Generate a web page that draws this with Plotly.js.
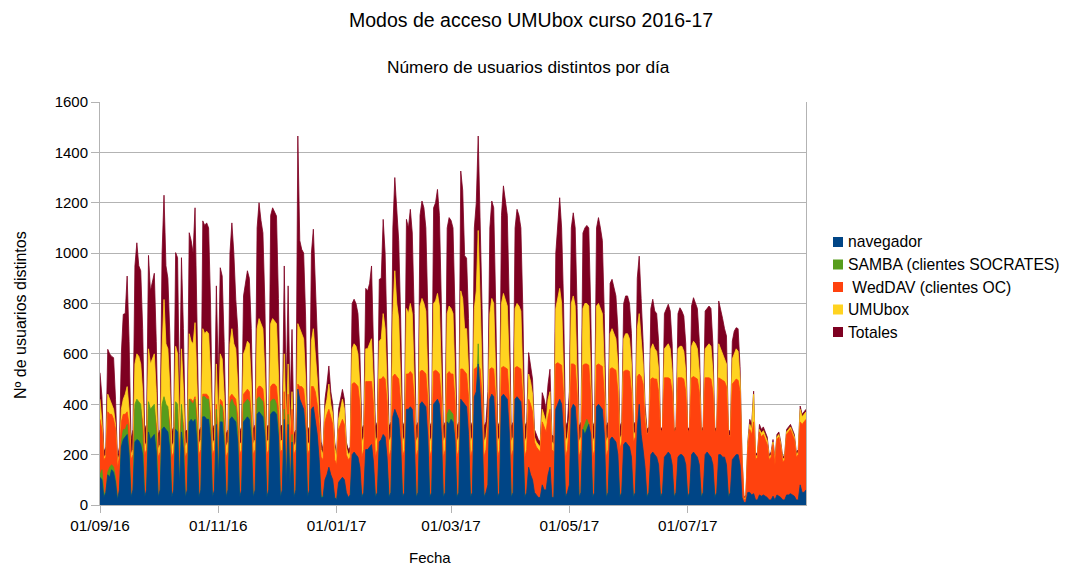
<!DOCTYPE html>
<html>
<head>
<meta charset="utf-8">
<script src="https://cdn.plot.ly/plotly-3.0.1.min.js"></script>
<style>
html,body{margin:0;padding:0;background:#fff;}
#chart{width:1069px;height:567px;}
</style>
</head>
<body>
<div id="chart"></div>
<script>
// ---------------- DATA (daily values, 01/09/2016 .. 31/08/2017) ----------------
const startDate = '2016-09-01';
const seriesNames = ['navegador', 'SAMBA (clientes SOCRATES)', '\u00a0WedDAV (clientes OC)', 'UMUbox', 'Totales'];
const seriesColors = ['#004586', '#579d1c', '#ff420e', '#ffd320', '#7e0021'];
const tickDates = ['2016-09-01', '2016-11-01', '2017-01-01', '2017-03-01', '2017-05-01', '2017-07-01'];
const tickLabels = ['01/09/16', '01/11/16', '01/01/17', '01/03/17', '01/05/17', '01/07/17'];

const totales = [
525, 430, 210, 230,
618, 600, 590, 585, 420, 190, 230,
600, 757, 760, 909, 650, 260, 300,
949, 1041, 950, 930, 700, 300, 320,
991, 850, 880, 920, 650, 280, 300,
1000, 1230, 950, 900, 680, 290, 310,
1002, 982, 400, 982, 700, 290, 300,
1081, 1050, 1000, 1180, 760, 290, 310,
1128, 1110, 1120, 1100, 800, 300, 320,
870, 500, 942, 909, 650, 280, 300,
1000, 1120, 1000, 817, 700, 290, 310,
830, 883, 930, 900, 700, 300, 320,
1100, 1200, 1130, 1080, 800, 310, 320,
1150, 1180, 1160, 1147, 820, 310, 320,
949, 450, 870, 400, 697, 280, 300,
1465, 1050, 1015, 1000, 750, 300, 310,
1000, 1095, 900, 700, 450, 250, 220,
420, 480, 552, 450, 400, 250, 200,
380, 420, 459, 420, 250, 220, 230,
800, 817, 800, 760, 600, 300, 320,
860, 850, 880, 949, 650, 310, 330,
896, 900, 1134, 1000, 700, 310, 330,
1100, 1300, 1150, 1050, 750, 310, 330,
1134, 1100, 1174, 1080, 760, 310, 330,
1150, 1207, 1180, 1100, 780, 310, 330,
1180, 1200, 1253, 1150, 800, 310, 330,
1100, 1141, 1130, 1100, 780, 310, 330,
1326, 1250, 990, 980, 740, 310, 330,
1100, 1200, 1465, 1150, 780, 310, 330,
450, 1100, 1207, 1180, 800, 310, 330,
1150, 1267, 1200, 1150, 800, 310, 330,
1100, 1174, 1150, 1100, 780, 310, 330,
605, 560, 500, 300, 280, 260, 250,
446, 420, 380, 480, 539, 280, 270,
1000, 1100, 1220, 1100, 800, 310, 330,
450, 1100, 1160, 1100, 780, 310, 330,
1080, 1100, 1110, 1100, 780, 310, 330,
1100, 1141, 1100, 1050, 760, 310, 330,
880, 896, 860, 830, 700, 310, 330,
800, 830, 830, 800, 680, 320, 330,
900, 988, 820, 650, 400, 300, 310,
780, 817, 770, 760, 650, 300, 310,
760, 780, 797, 770, 640, 300, 310,
760, 783, 770, 750, 640, 300, 310,
790, 823, 800, 780, 650, 300, 310,
770, 780, 790, 780, 640, 300, 310,
810, 780, 740, 700, 671, 300, 290,
650, 690, 704, 700, 550, 200, 30,
40, 250, 340, 320, 452, 200, 210,
320, 300, 310, 290, 270, 200, 210,
260, 180, 280, 290, 250, 190, 200,
300, 310, 320, 300, 280, 210, 220,
393, 360, 370, 380
];

const umubox = [
420, 330, 190, 200,
440, 420, 400, 380, 320, 170, 200,
380, 420, 440, 470, 380, 200, 220,
560, 600, 590, 560, 450, 230, 250,
620, 560, 580, 600, 450, 220, 240,
620, 816, 640, 620, 470, 230, 250,
630, 600, 300, 620, 460, 230, 250,
680, 650, 640, 724, 500, 240, 260,
700, 680, 690, 680, 520, 240, 260,
560, 330, 600, 580, 440, 230, 250,
640, 700, 640, 620, 480, 240, 250,
600, 620, 650, 640, 480, 240, 260,
700, 740, 720, 700, 520, 250, 260,
720, 740, 730, 720, 520, 250, 260,
600, 300, 560, 280, 450, 230, 250,
720, 700, 680, 660, 500, 240, 250,
650, 700, 600, 500, 350, 220, 200,
380, 420, 480, 400, 360, 230, 190,
340, 380, 420, 380, 230, 200, 210,
620, 640, 630, 600, 470, 250, 270,
620, 620, 640, 660, 480, 250, 270,
650, 660, 760, 700, 500, 250, 270,
760, 930, 800, 740, 520, 250, 270,
780, 760, 800, 760, 530, 250, 270,
790, 820, 800, 770, 540, 250, 270,
800, 810, 840, 790, 550, 250, 270,
760, 790, 780, 760, 540, 250, 270,
850, 820, 700, 700, 540, 250, 270,
780, 850, 1090, 800, 550, 250, 270,
350, 760, 820, 800, 560, 250, 270,
800, 840, 810, 790, 560, 250, 270,
780, 800, 790, 770, 550, 250, 270,
520, 490, 440, 270, 250, 240, 230,
380, 350, 330, 420, 450, 250, 240,
780, 820, 860, 800, 560, 250, 270,
350, 800, 830, 790, 560, 250, 270,
780, 800, 800, 790, 560, 250, 270,
790, 800, 780, 760, 550, 250, 270,
680, 700, 680, 660, 560, 260, 280,
660, 680, 680, 660, 560, 280, 290,
700, 760, 660, 560, 360, 280, 290,
620, 640, 620, 610, 540, 280, 290,
620, 630, 640, 620, 530, 280, 290,
620, 630, 630, 610, 530, 280, 290,
630, 650, 640, 620, 530, 280, 290,
620, 630, 640, 630, 530, 280, 290,
640, 620, 600, 580, 560, 280, 270,
580, 600, 620, 610, 500, 190, 25,
30, 240, 320, 300, 440, 190, 200,
300, 285, 295, 275, 255, 190, 200,
250, 170, 270, 280, 240, 180, 190,
290, 300, 310, 290, 270, 200, 210,
380, 350, 360, 370
];

const webdav = [
340, 300, 180, 190,
370, 360, 360, 340, 300, 150, 190,
330, 360, 360, 370, 320, 180, 200,
380, 400, 390, 380, 330, 200, 220,
380, 370, 370, 380, 320, 190, 210,
390, 400, 390, 380, 320, 190, 210,
390, 380, 230, 380, 320, 190, 210,
420, 420, 410, 430, 350, 200, 220,
440, 440, 440, 430, 360, 200, 220,
400, 250, 420, 410, 340, 190, 210,
430, 440, 430, 420, 350, 200, 220,
440, 450, 460, 450, 360, 200, 220,
460, 472, 470, 460, 370, 200, 220,
470, 480, 480, 470, 380, 210, 220,
450, 250, 440, 240, 380, 200, 220,
480, 470, 470, 460, 380, 200, 220,
470, 470, 450, 400, 320, 190, 180,
330, 360, 380, 350, 320, 180, 160,
300, 320, 340, 320, 200, 180, 190,
480, 486, 480, 470, 400, 190, 220,
490, 490, 490, 490, 400, 190, 220,
500, 500, 510, 500, 410, 190, 220,
510, 520, 510, 500, 410, 190, 220,
520, 520, 530, 520, 420, 190, 220,
530, 535, 530, 520, 420, 190, 220,
530, 535, 530, 520, 420, 190, 220,
520, 530, 520, 520, 420, 190, 220,
540, 540, 530, 520, 430, 190, 220,
540, 545, 555, 540, 430, 190, 220,
320, 540, 545, 540, 430, 190, 220,
545, 550, 545, 540, 430, 190, 220,
545, 550, 545, 540, 430, 190, 220,
420, 400, 370, 250, 230, 220, 210,
330, 310, 290, 350, 380, 220, 210,
560, 565, 560, 555, 440, 190, 220,
320, 560, 560, 555, 440, 190, 220,
555, 560, 560, 555, 440, 190, 220,
555, 560, 555, 550, 440, 190, 220,
540, 545, 540, 535, 450, 220, 250,
530, 535, 535, 530, 450, 250, 270,
510, 520, 510, 480, 330, 280, 290,
500, 505, 500, 500, 450, 290, 300,
505, 505, 505, 500, 450, 290, 300,
505, 505, 505, 500, 450, 290, 300,
505, 510, 505, 500, 450, 290, 300,
505, 505, 505, 500, 450, 290, 300,
505, 500, 495, 490, 470, 280, 270,
480, 490, 500, 495, 450, 180, 20,
25, 220, 300, 280, 330, 180, 190,
290, 270, 280, 260, 240, 180, 190,
240, 160, 260, 270, 230, 170, 180,
280, 290, 300, 280, 260, 190, 200,
330, 320, 330, 340
];

const samba = [
120, 140, 50, 45,
130, 150, 160, 150, 110, 30, 40,
250, 300, 300, 320, 220, 40, 50,
400, 420, 410, 400, 280, 40, 50,
410, 380, 390, 400, 290, 40, 50,
400, 430, 400, 390, 280, 40, 50,
410, 400, 60, 400, 280, 40, 50,
420, 410, 400, 420, 300, 40, 50,
430, 430, 420, 420, 310, 40, 50,
380, 100, 400, 390, 280, 40, 50,
400, 420, 400, 390, 290, 40, 50,
400, 410, 420, 410, 300, 40, 50,
420, 430, 420, 410, 300, 40, 50,
410, 420, 420, 400, 300, 40, 50,
380, 60, 360, 60, 280, 40, 50,
420, 400, 380, 370, 280, 40, 50,
350, 360, 300, 250, 150, 40, 30,
80, 100, 120, 90, 70, 30, 20,
70, 80, 90, 80, 40, 30, 30,
150, 160, 150, 140, 100, 40, 40,
180, 180, 190, 200, 130, 40, 40,
220, 230, 250, 240, 160, 40, 40,
300, 320, 300, 290, 200, 40, 40,
330, 330, 340, 330, 220, 40, 40,
340, 350, 340, 330, 230, 40, 40,
340, 360, 380, 350, 240, 40, 40,
360, 380, 370, 360, 240, 40, 40,
360, 350, 340, 330, 230, 40, 40,
360, 380, 640, 370, 240, 40, 40,
60, 360, 380, 370, 240, 40, 40,
370, 390, 380, 370, 240, 40, 40,
360, 370, 360, 350, 240, 40, 40,
100, 80, 60, 30, 30, 20, 20,
60, 50, 40, 60, 80, 20, 20,
300, 320, 330, 310, 220, 40, 40,
60, 320, 330, 310, 220, 40, 40,
300, 320, 340, 320, 220, 40, 40,
320, 330, 320, 310, 220, 40, 40,
200, 210, 200, 190, 150, 40, 40,
180, 190, 180, 170, 140, 40, 40,
250, 300, 220, 180, 120, 40, 40,
160, 170, 160, 150, 120, 40, 40,
150, 160, 160, 150, 120, 40, 40,
150, 160, 150, 150, 120, 40, 40,
150, 160, 150, 150, 120, 40, 40,
150, 160, 150, 150, 120, 40, 40,
150, 150, 140, 140, 110, 40, 40,
100, 100, 100, 100, 80, 20, 5,
5, 10, 10, 10, 10, 5, 5,
5, 5, 5, 5, 5, 5, 5,
5, 5, 5, 5, 5, 5, 5,
5, 5, 5, 5, 5, 5, 5,
5, 5, 5, 5
];

const navegador = [
110, 100, 30, 50,
120, 110, 140, 130, 90, 20, 60,
230, 260, 270, 280, 200, 30, 60,
250, 260, 255, 240, 200, 30, 60,
290, 260, 270, 280, 210, 30, 60,
300, 310, 300, 290, 220, 30, 60,
300, 290, 80, 290, 220, 30, 60,
330, 340, 330, 340, 250, 30, 60,
350, 350, 340, 340, 260, 30, 60,
320, 100, 330, 330, 240, 30, 60,
340, 350, 340, 330, 250, 30, 60,
330, 340, 350, 340, 260, 30, 60,
360, 370, 360, 350, 270, 30, 60,
360, 370, 370, 360, 270, 30, 60,
340, 80, 320, 70, 250, 30, 60,
460, 420, 400, 380, 280, 30, 60,
380, 390, 340, 280, 180, 30, 30,
100, 120, 150, 120, 100, 30, 20,
90, 100, 110, 100, 50, 30, 40,
200, 210, 200, 190, 150, 30, 50,
220, 220, 230, 240, 170, 30, 50,
250, 260, 280, 270, 190, 30, 50,
350, 380, 360, 340, 240, 30, 50,
380, 380, 390, 380, 260, 30, 50,
400, 410, 400, 390, 270, 30, 50,
400, 410, 420, 400, 280, 30, 50,
330, 320, 340, 330, 260, 30, 50,
420, 410, 400, 390, 280, 30, 50,
430, 450, 560, 440, 290, 30, 50,
80, 420, 440, 430, 290, 30, 50,
430, 440, 430, 420, 290, 30, 50,
420, 430, 420, 410, 280, 30, 50,
150, 120, 100, 50, 40, 30, 30,
80, 60, 60, 120, 150, 30, 30,
380, 400, 420, 400, 280, 30, 50,
80, 380, 400, 390, 280, 30, 50,
300, 280, 300, 320, 280, 30, 50,
390, 400, 390, 380, 280, 30, 50,
260, 270, 260, 250, 200, 30, 50,
240, 250, 240, 230, 190, 30, 50,
300, 400, 280, 220, 150, 30, 50,
200, 210, 200, 190, 160, 30, 50,
190, 200, 210, 200, 160, 30, 50,
190, 200, 200, 190, 160, 30, 50,
200, 210, 200, 190, 160, 30, 50,
200, 210, 200, 190, 160, 30, 50,
200, 200, 190, 190, 160, 30, 50,
180, 190, 200, 200, 160, 30, 10,
10, 50, 50, 40, 45, 20, 20,
40, 35, 40, 35, 30, 20, 20,
35, 20, 40, 35, 30, 20, 20,
40, 40, 45, 40, 35, 20, 20,
80, 50, 50, 60
];

// ---------------- BUILD ----------------
function dayList(n) {
  const out = [];
  const base = new Date(startDate + 'T00:00:00Z');
  for (let i = 0; i < n; i++) {
    const d = new Date(base.getTime() + i * 86400000);
    out.push(d.toISOString().slice(0, 10));
  }
  return out;
}

const W = 1069, H = 567;
const L = 100, R = 806, T = 102, B = 505;
const px = x => (x - L) / (R - L);
const py = y => (B - y) / (B - T);
const FONT = '"Liberation Sans", Arial, sans-serif';

const seriesData = [navegador, samba, webdav, umubox, totales];
const traces = [];
for (let k = seriesData.length - 1; k >= 0; k--) {
  const vals = seriesData[k];
  traces.push({
    type: 'scatter', mode: 'lines',
    x: dayList(vals.length), y: vals,
    name: seriesNames[k],
    fill: 'tozeroy', fillcolor: seriesColors[k],
    line: {color: seriesColors[k], width: 0.8},
    showlegend: false, hoverinfo: 'skip'
  });
}

const shapes = [];
const annotations = [];
const legTop = 242, legStep = 22.5;
seriesNames.forEach((nm, i) => {
  const yc = legTop + i * legStep;
  shapes.push({type: 'rect', xref: 'paper', yref: 'paper',
    x0: px(833), x1: px(843), y0: py(yc + 5), y1: py(yc - 5),
    fillcolor: seriesColors[i], line: {width: 0}});
  annotations.push({xref: 'paper', yref: 'paper', x: px(846), y: py(yc),
    xanchor: 'left', yanchor: 'middle', showarrow: false, text: nm,
    font: {family: FONT, size: 15.7, color: '#000'}});
});

annotations.push({xref: 'paper', yref: 'paper', x: px(531), y: py(20),
  xanchor: 'center', yanchor: 'middle', showarrow: false,
  text: 'Modos de acceso UMUbox curso 2016-17',
  font: {family: FONT, size: 19.5, color: '#000'}});
annotations.push({xref: 'paper', yref: 'paper', x: px(528), y: py(67),
  xanchor: 'center', yanchor: 'middle', showarrow: false,
  text: 'Número de usuarios distintos por día',
  font: {family: FONT, size: 17.3, color: '#000'}});
annotations.push({xref: 'paper', yref: 'paper', x: px(20), y: py(315),
  xanchor: 'center', yanchor: 'middle', showarrow: false, textangle: -90,
  text: 'Nº de usuarios distintos',
  font: {family: FONT, size: 16, color: '#000'}});
annotations.push({xref: 'paper', yref: 'paper', x: px(430), y: py(557),
  xanchor: 'center', yanchor: 'middle', showarrow: false,
  text: 'Fecha',
  font: {family: FONT, size: 15, color: '#000'}});

const layout = {
  width: W, height: H,
  margin: {l: L, r: W - R, t: T, b: H - B, pad: 0},
  paper_bgcolor: '#ffffff', plot_bgcolor: '#ffffff',
  font: {family: FONT, size: 15, color: '#000'},
  showlegend: false,
  xaxis: {
    type: 'date', range: ['2016-09-01', '2017-08-31'],
    tickmode: 'array', tickvals: tickDates, ticktext: tickLabels,
    ticks: 'outside', ticklen: 7, tickcolor: '#b3b3b3',
    showline: true, linecolor: '#b3b3b3', linewidth: 1,
    showgrid: false, zeroline: false,
    tickfont: {family: FONT, size: 15.3, color: '#000'}
  },
  yaxis: {
    range: [0, 1600], dtick: 200, tick0: 0,
    ticks: 'outside', ticklen: 8, tickcolor: '#b3b3b3',
    showline: true, mirror: true, linecolor: '#b3b3b3', linewidth: 1,
    gridcolor: '#b3b3b3', gridwidth: 1, zeroline: false,
    tickfont: {family: FONT, size: 15, color: '#000'}
  },
  shapes: shapes,
  annotations: annotations
};

Plotly.newPlot('chart', traces, layout, {displayModeBar: false, staticPlot: true});
</script>
</body>
</html>
